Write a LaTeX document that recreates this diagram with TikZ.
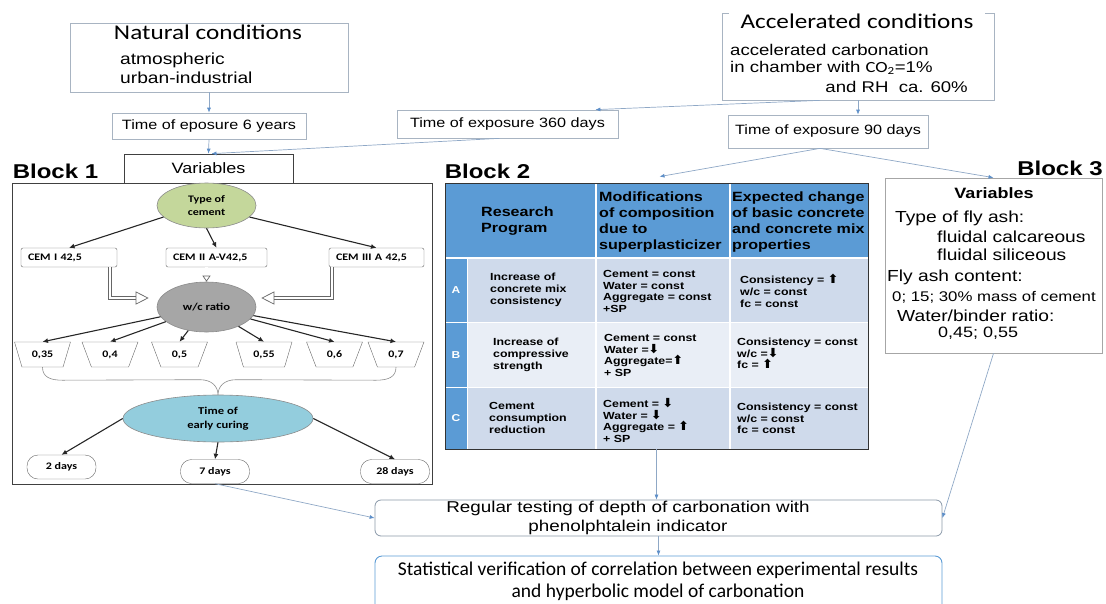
\documentclass[tikz,border=0pt]{standalone}
\usepackage{fontspec}
\setmainfont[FakeStretch=1.2]{Liberation Sans}
\newfontfamily\calfont[FakeStretch=1.2]{Carlito}
\newfontfamily\calplain{Carlito}
\newfontfamily\arrfont{DejaVu Sans}
\usetikzlibrary{calc,shapes.geometric,arrows.meta}
\definecolor{linkblue}{HTML}{8FA8C6}
\definecolor{tipblue}{HTML}{5E8FC8}
\definecolor{boxgray}{HTML}{A8B4C2}
\definecolor{regbord}{HTML}{8A98A8}
\definecolor{headblue}{HTML}{5B9BD5}
\definecolor{rowdark}{HTML}{CFDAEB}
\definecolor{rowlight}{HTML}{E9EEF6}
\definecolor{cemgreen}{HTML}{C4D79B}
\definecolor{wcgray}{HTML}{A6A6A6}
\definecolor{curteal}{HTML}{93CDDD}
\newcommand{\arup}{{\arrfont\fontsize{12.5}{11.8}\selectfont ⬆}}
\newcommand{\ardn}{{\arrfont\fontsize{12.5}{11.8}\selectfont ⬇}}

\begin{document}
\begin{tikzpicture}[x=1pt,y=-1pt,
  link/.style={draw=linkblue,line width=0.7pt,-{Latex[length=5pt,width=4pt,color=tipblue]}},
  blk/.style={draw=black!85,line width=1.1pt,-{Latex[length=5.5pt,width=5pt]}},
  hollow/.style={draw=black!60,line width=0.7pt,double=white,double distance=2.5pt,-{Triangle[open,length=13pt,width=13pt]}},
  tbox/.style={draw=boxgray,line width=0.7pt,font=\fontsize{13.5}{16}\selectfont},
  ell/.style={ellipse,draw=black!45,line width=0.6pt,align=center,inner sep=0pt,font=\calfont\bfseries\fontsize{10}{12.5}\selectfont},
  cembox/.style={draw=black!60,rounded corners=2pt,minimum height=19pt,inner xsep=7pt,inner ysep=0pt,align=left,font=\calfont\bfseries\fontsize{10}{12}\selectfont},
  wcval/.style={trapezium,trapezium angle=116,trapezium stretches=true,draw=black!60,minimum width=56pt,minimum height=25pt,inner sep=0pt,font=\calfont\bfseries\fontsize{10}{12}\selectfont},
  daybox/.style={draw=black!60,rounded corners=11pt,minimum width=69pt,minimum height=24pt,font=\calfont\bfseries\fontsize{10}{12}\selectfont},
  hdr/.style={anchor=west,align=left,inner sep=0pt,font=\bfseries\fontsize{13.4}{15.8}\selectfont},
  cell/.style={anchor=west,align=left,inner sep=0pt,font=\bfseries\fontsize{10.3}{11.8}\selectfont},
  blocklbl/.style={font=\bfseries\fontsize{20}{20}\selectfont,inner sep=0pt},
  b3txt/.style={anchor=west,inner sep=0pt,font=\fontsize{16}{18}\selectfont}]
  \useasboundingbox (0,0) rectangle (1106,603);

  % exposure conditions
  \node[draw=boxgray,line width=0.7pt,minimum width=278pt,minimum height=69pt] (nat) at (209,57.5) {};
  \node[fill=white,inner xsep=14pt,inner ysep=1pt,font=\calfont\fontsize{21}{21}\selectfont] (natT) at (208,32) {Natural conditions};
  \node[anchor=west,align=left,inner sep=0pt,font=\fontsize{16}{19}\selectfont] (natB) at (120,68) {atmospheric\\urban-industrial};
  \node[tbox,minimum width=194pt,minimum height=26pt] (t6) at (209,126) {Time of eposure 6 years};
  \node[tbox,draw=black!75,minimum width=169pt,minimum height=29pt,font=\fontsize{15}{15}\selectfont] (vars) at (208.5,168.5) {Variables};

  \node[draw=boxgray,line width=0.7pt,minimum width=272pt,minimum height=87pt] (acc) at (858,56.5) {};
  \node[fill=white,inner xsep=12pt,inner ysep=1pt,font=\calfont\fontsize{21}{21}\selectfont] (accT) at (857,21) {Accelerated conditions};
  \node[anchor=west,align=left,inner sep=0pt,font=\fontsize{15.5}{17}\selectfont] (accB) at (730,59) {accelerated carbonation\\in chamber with {\calfont CO\textsubscript{2}}=1\%};
  \node[anchor=east,inner sep=0pt,font=\fontsize{15.5}{17}\selectfont] (accC) at (968,87) {and RH\ \ ca. 60\%};
  \node[tbox,minimum width=221pt,minimum height=28pt] (t360) at (507.5,124) {Time of exposure 360 days};
  \node[tbox,minimum width=200pt,minimum height=33pt] (t90) at (828,131.5) {Time of exposure 90 days};

  \node[blocklbl] (bl1) at (55.5,171.5) {Block 1};
  \node[blocklbl] (bl2) at (487.5,171) {Block 2};
  \node[blocklbl] (bl3) at (1060,168) {Block 3};

  % block 1
  \node[draw=black!75,line width=0.9pt,minimum width=420pt,minimum height=301pt,inner sep=0pt] (b1) at (222,333.5) {};
  \node[ell,fill=cemgreen,minimum width=99pt,minimum height=45pt] (cem) at (206.5,205.5) {Type of\\cement};
  \node[cembox,text width=82pt] (c1) at (69,257.5) {CEM I 42,5};
  \node[cembox,text width=87pt] (c2) at (216.5,257.5) {CEM II A-V42,5};
  \node[cembox,text width=81pt] (c3) at (376.5,257.5) {CEM III A 42,5};
  \draw[blk] (cem.195) -- (c1.north);
  \draw[blk] (cem.south) -- (c2.north);
  \draw[blk] (cem.345) -- (c3.north);
  \node[ell,fill=wcgray,minimum width=99pt,minimum height=50pt,font=\calfont\bfseries\fontsize{10.5}{13}\selectfont] (wc) at (206.5,307) {w/c ratio};
  \draw[hollow] ($(c1.south east)+(-7,0)$) |- ($(wc.west)+(-8,-9)$);
  \draw[hollow] ($(c3.south west)+(3,0)$) |- ($(wc.east)+(5,-9)$);
  \draw[hollow,-{Triangle[open,length=6pt,width=8pt]}] (c2.south -| wc.north) -- (wc.north);
  \foreach \x/\v [count=\i] in {42.5/{0,35},110/{0,4},179.5/{0,5},264/{0,55},334.5/{0,6},396/{0,7}}{
    \node[wcval] (v\i) at (\x,354.5) {\v};
    \draw[blk] (wc) -- (v\i.north);
  }
  \node[ell,fill=curteal,minimum width=190pt,minimum height=47pt,font=\calfont\bfseries\fontsize{10.5}{13.5}\selectfont] (cur) at (218,418.5) {Time of\\early curing};
  \coordinate (cusp) at (cur.north);
  \draw[black!45,line width=0.6pt] (v1.south) .. controls ($(v1.south)+(0,10)$) and ($(v1.south)+(8,13)$) .. ($(v1.south)+(20,13)$)
    -- ($(cusp)+(-18,-15)$) .. controls ($(cusp)+(-6,-15)$) and ($(cusp)+(0,-8)$) .. (cusp);
  \draw[black!45,line width=0.6pt] (v6.south) .. controls ($(v6.south)+(0,10)$) and ($(v6.south)+(-8,13)$) .. ($(v6.south)+(-20,13)$)
    -- ($(cusp)+(18,-15)$) .. controls ($(cusp)+(6,-15)$) and ($(cusp)+(0,-8)$) .. (cusp);
  \node[daybox] (d2) at (61.5,467) {2 days};
  \node[daybox] (d7) at (215,471.5) {7 days};
  \node[daybox] (d28) at (395,471.5) {28 days};
  \draw[blk] (cur.west) -- (d2.north);
  \draw[blk] (cur.south) -- (d7.north);
  \draw[blk] (cur.east) -- (d28.north);

  % block 2
  \fill[headblue] (445,183) rectangle (868,258);
  \fill[headblue] (445,258) rectangle (467,449);
  \foreach \ya/\yb/\c in {258/322/rowdark,322/387/rowlight,387/449/rowdark}
    \fill[\c] (467,\ya) rectangle (868,\yb);
  \foreach \xx in {596,730}
    \draw[white,line width=1.2pt] (\xx,183) -- (\xx,449);
  \draw[white,line width=2.5pt] (445,258) -- (868,258);
  \foreach \yy in {322,387}
    \draw[white,line width=1pt] (445,\yy) -- (868,\yy);
  \draw[white,line width=0.8pt] (467,258) -- (467,449);
  \node[draw=black!80,line width=0.8pt,minimum width=423pt,minimum height=266pt,inner sep=0pt] (tab) at (656.5,316) {};
  \foreach \l/\yy in {A/290,B/355,C/418}
    \node[text=white,inner sep=0pt,font=\bfseries\fontsize{10}{10}\selectfont] (lt\l) at (456,\yy) {\l};
  \node[hdr] (h1) at (481,221) {Research\\Program};
  \node[hdr] (h2) at (599,222) {Modifications\\of composition\\due to\\superplasticizer};
  \node[hdr] (h3) at (732,222) {Expected change\\of basic concrete\\and concrete mix\\properties};
  \node[cell] (rA1) at (490,290) {Increase of\\concrete mix\\consistency};
  \node[cell] (rA2) at (603,291.5) {Cement = const\\Water = const\\Aggregate = const\\+SP};
  \node[cell] (rA3) at (740,291) {Consistency = \arup\\w/c = const\\fc = const};
  \node[cell] (rB1) at (493,355) {Increase of\\compressive\\strength};
  \node[cell] (rB2) at (604,355.5) {Cement = const\\Water =\ardn\\Aggregate=\arup\\+ SP};
  \node[cell] (rB3) at (737,353.5) {Consistency = const\\w/c =\ardn\\fc = \arup};
  \node[cell] (rC1) at (489,418) {Cement\\consumption\\reduction};
  \node[cell] (rC2) at (603,420.5) {Cement = \ardn\\Water = \ardn\\Aggregate = \arup\\+ SP};
  \node[cell] (rC3) at (737,418.5) {Consistency = const\\w/c = const\\fc = const};

  % block 3
  \node[draw=black!35,line width=0.7pt,minimum width=217pt,minimum height=175pt] (b3) at (993.5,265.5) {};
  \node[inner sep=0pt,font=\bfseries\fontsize{15}{15}\selectfont] (b3h) at (994,193) {Variables};
  \node[b3txt] (b3a) at (895,218) {Type of fly ash:};
  \node[b3txt] (b3b) at (937,237) {fluidal calcareous};
  \node[b3txt] (b3c) at (937,255) {fluidal siliceous};
  \node[b3txt] (b3d) at (887,277) {Fly ash content:};
  \node[b3txt,font=\fontsize{14}{14}\selectfont] (b3e) at (892,297) {0; 15; 30\% mass of cement};
  \node[b3txt] (b3f) at (897,316) {Water/binder ratio:};
  \node[b3txt,font=\fontsize{15}{15}\selectfont] (b3g) at (938,333) {0,45; 0,55};

  % testing and verification
  \node[draw=regbord,line width=0.8pt,rounded corners=6pt,minimum width=567pt,minimum height=36pt] (reg) at (658.5,518) {};
  \node[align=center,inner sep=0pt,font=\fontsize{15.7}{19}\selectfont] (regT) at (628,518) {Regular testing of depth of carbonation with\\phenolphtalein indicator};
  \node[draw=headblue,line width=0.9pt,rounded corners=7pt,minimum width=567pt,minimum height=56pt] (stat) at (658.5,584) {};
  \node[align=center,inner sep=0pt,font=\calplain\fontsize{19.5}{22}\selectfont] (statT) at (658,581.5) {Statistical verification of correlation between experimental results\\and hyperbolic model of carbonation};

  % connectors
  \draw[link] (nat.south) -- (t6.north);
  \draw[link] (t6.south) -- (vars.north);
  \draw[link] ($(t360.south)+(-8,0)$) -- ($(vars.north)+(3,0)$);
  \draw[link] ($(acc.south)+(-38,0)$) -- ($(t360.north east)+(-23,0)$);
  \draw[link] (acc.south) -- (acc.south |- t90.north);
  \draw[link] ($(t90.south)+(-8,0)$) -- ($(tab.north)+(3,-6)$);
  \draw[link] ($(t90.south)+(-8,0)$) -- (b3.north);
  \draw[link] (tab.south) -- (tab.south |- reg.north);
  \draw[link] (reg.south) -- (stat.north);
  \draw[link] (d7.south) -- (reg.west);
  \draw[link] (b3.south) -- (reg.east);
\end{tikzpicture}
\end{document}
